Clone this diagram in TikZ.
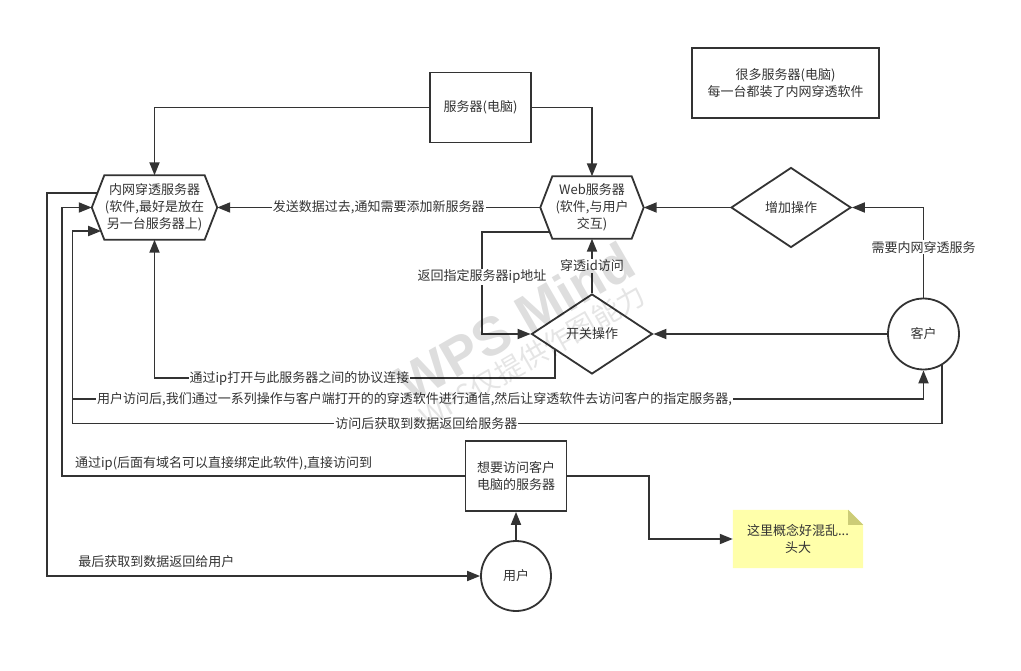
\documentclass[tikz,border=0pt]{standalone}
\usepackage{fontspec}
\setmainfont{Noto Sans CJK SC}
\newfontfamily\wmfont{Liberation Sans}
\usetikzlibrary{arrows.meta,shapes.geometric,calc,backgrounds}
\definecolor{ink}{HTML}{333333}
\definecolor{noteyel}{HTML}{FFFFAA}
\definecolor{notefold}{HTML}{CCCC77}

\begin{document}
\begin{tikzpicture}[x=1pt,y=-1pt,
  every node/.style={font=\fontsize{13}{17}\selectfont, text=ink},
  line/.style={draw=ink, line width=1.8pt},
  arr/.style={line, -{Triangle[length=13pt,width=10pt]}},
  boxnode/.style={draw=ink, line width=1.8pt, fill=white, align=center, inner sep=0pt},
  rectbox/.style={boxnode, rectangle},
  roundbox/.style={boxnode, circle, minimum size=70pt},
  decide/.style={boxnode, diamond, minimum width=120pt, minimum height=80pt},
  hexbody/.style={rectangle, align=center, inner sep=0pt},
  hexline/.style={draw=ink, line width=1.8pt, line join=miter},
  lbl/.style={fill=white, inner sep=1pt},
  lbltop/.style={inner sep=0pt}
]
\useasboundingbox (0,0) rectangle (1021,671);
\begin{scope}[on background layer]
  \fill[white] (0,0) rectangle (1021,671);
\end{scope}

% ---- nodes ----
\node[rectbox, minimum width=101pt, minimum height=70pt] (srv) at (480.5,107.5) {服务器(电脑)};
\node[rectbox, minimum width=187pt, minimum height=70pt] (many) at (785.5,83) {很多服务器(电脑)\\每一台都装了内网穿透软件};

\node[hexbody, minimum width=125pt, minimum height=64pt] (nat) at (154.5,207.5)
  {内网穿透服务器\\(软件,最好是放在\\另一台服务器上)};
\draw[hexline] (nat.west) -- ([xshift=12.5pt]nat.north west) -- ([xshift=-12.5pt]nat.north east)
  -- (nat.east) -- ([xshift=-12.5pt]nat.south east) -- ([xshift=12.5pt]nat.south west) -- cycle;

\node[hexbody, minimum width=103pt, minimum height=62pt] (web) at (592,207.5)
  {Web服务器\\(软件,与用户\\交互)};
\draw[hexline] (web.west) -- ([xshift=12pt]web.north west) -- ([xshift=-12pt]web.north east)
  -- (web.east) -- ([xshift=-12pt]web.south east) -- ([xshift=12pt]web.south west) -- cycle;

\node[decide] (add) at (791,207.5) {增加操作};
\node[decide, minimum width=121pt] (sw) at (592,334) {开关操作};
\node[roundbox, minimum size=71pt] (cust) at (923.5,334) {客户};
\node[rectbox, minimum width=101pt, minimum height=70pt] (want) at (516,476) {想要访问客户\\电脑的服务器};
\node[roundbox] (user) at (516,576) {用户};

\node[hexbody, minimum width=130pt, minimum height=58pt] (note) at (798,539) {这里概念好混乱...\\头大};
\begin{scope}[on background layer]
  \fill[noteyel] (note.north west) -- ([xshift=-15pt]note.north east) -- ([yshift=-15pt]note.north east)
    -- (note.south east) -- (note.south west) -- cycle;
  \fill[notefold] ([xshift=-15pt]note.north east) -- ([yshift=-15pt]note.north east)
    -- ([xshift=-15pt,yshift=-15pt]note.north east) -- cycle;
\end{scope}

% ---- points on the slanted sides where lines leave ----
\coordinate (natT) at (97.7,193);
\coordinate (natB) at (101.2,231);
\coordinate (retA) at (549.9,231.7);
\coordinate (swA) at (555,349.5);
\coordinate (custB) at (942,364.3);
\coordinate (bStart) at (72.5,399);

% ---- connectors ----
\draw[arr] (srv.west) -| (nat.north);
\draw[arr] (srv.east) -| (web.north);
\draw[arr] (web.west) -- node[lbl]{发送数据过去,通知需要添加新服务器} (nat.east);
\draw[arr] (add.west) -- (web.east);
\draw[arr] (cust.north) |- node[lbl, pos=0.28]{需要内网穿透服务} (add.east);
\draw[arr] (cust.west) -- (sw.east);
\draw[arr] (sw.north) -- node[lbl]{穿透id访问} (web.south);
\draw[arr] (retA) -- (482,231.7) |- node[lbl, pos=0.22]{返回指定服务器ip地址} (sw.west);
\draw[arr] (swA) -- (555,378) -| node[lbl, pos=0.319]{通过ip打开与此服务器之间的协议连接} (nat.south);
\draw[arr] (bStart) -| node[lbl, pos=0.201]{用户访问后,我们通过一系列操作与客户端打开的的穿透软件进行通信,然后让穿透软件去访问客户的指定服务器,} (cust.south);
\draw[arr] (custB) -- (942,423.5) -- node[lbl, pos=0.593]{访问后获取到数据返回给服务器} (72.5,423.5) -- (72.5,231) -- (natB);
\draw[arr] (want.west) -- node[lbltop, above=5pt, pos=0.598]{通过ip(后面有域名可以直接绑定此软件),直接访问到} (61.7,476) |- (nat.west);
\draw[arr] (natT) -- (47.3,193) |- node[lbltop, above=7pt, pos=0.626]{最后获取到数据返回给用户} (user.west);
\draw[arr] (user.north) -- (want.south);
\draw[arr] (want.east) -- (648.7,476) |- (note.west);

% ---- watermark ----
\node[rotate=30, text=black, text opacity=0.13, font=\wmfont\bfseries\fontsize{54}{54}\selectfont] (wm) at (515,322) {WPS Mind};
\node[rotate=30, text=black, text opacity=0.10, font=\fontsize{28}{28}\selectfont] (wmsub) at (532,356) {WPS仅提供作图能力};
\end{tikzpicture}
\end{document}
